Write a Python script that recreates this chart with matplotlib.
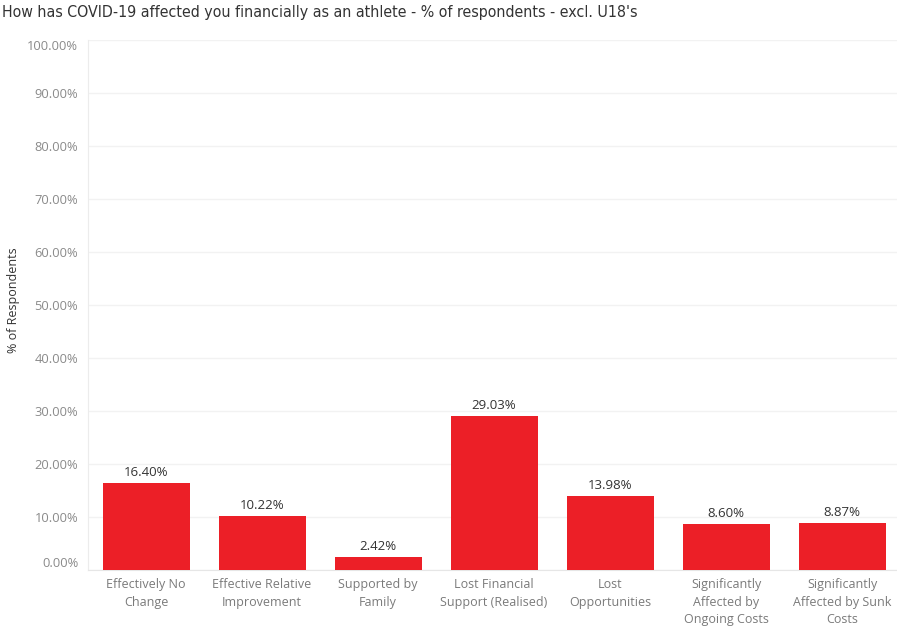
import matplotlib
matplotlib.use("Agg")
import matplotlib.pyplot as plt
from matplotlib.ticker import FixedLocator
from matplotlib import font_manager

categories = [
    "Effectively No\nChange",
    "Effective Relative\nImprovement",
    "Supported by\nFamily",
    "Lost Financial\nSupport (Realised)",
    "Lost\nOpportunities",
    "Significantly\nAffected by\nOngoing Costs",
    "Significantly\nAffected by Sunk\nCosts",
]
values = [16.40, 10.22, 2.42, 29.03, 13.98, 8.60, 8.87]
y_ticks = [0, 10, 20, 30, 40, 50, 60, 70, 80, 90, 100]
y_tick_labels = [f"{t:.2f}%" for t in y_ticks]

title_text = "How has COVID-19 affected you financially as an athlete - % of respondents - excl. U18's"

# pick a narrow face for the title if one is available
names = {f.name for f in font_manager.fontManager.ttflist}
narrow = "Liberation Sans Narrow" if "Liberation Sans Narrow" in names else "DejaVu Sans"

W, H = 897, 628
fig = plt.figure(figsize=(W / 100, H / 100), dpi=100)
ax = fig.add_axes([88 / W, 1 - 570 / H, (W - 88) / W, 530 / H])

bar_color = "#ec1f27"
x = list(range(len(values)))
ax.bar(x, values, width=0.75, color=bar_color, zorder=3)

for xi, v in zip(x, values):
    ax.annotate(f"{v:.2f}%", (xi, v), xytext=(0, 3), textcoords="offset points",
                ha="center", va="bottom", fontsize=9.5, color="#333333",
                family="Open Sans", zorder=4)

ax.set_xlim(-0.5, (W - 88) / 116 - 0.5)
ax.set_ylim(0, 100)

ax.yaxis.set_major_locator(FixedLocator(y_ticks))
ax.set_yticklabels(y_tick_labels)
ax.grid(axis="y", color="#f2f2f2", linewidth=1, zorder=0)
ax.tick_params(axis="y", length=0, pad=7, labelsize=9.3, labelcolor="#8a8a8a")
for lbl in ax.get_yticklabels():
    lbl.set_family("Open Sans")
ylabels = ax.get_yticklabels()
ylabels[0].set_va("bottom")
ylabels[-1].set_va("top")

ax.set_xticks(x)
ax.set_xticklabels(categories, fontsize=9, color="#7a7a7a", family="Open Sans",
                   linespacing=1.45)
ax.tick_params(axis="x", length=0, pad=6)

for side in ("top", "right"):
    ax.spines[side].set_visible(False)
ax.spines["left"].set_color("#ececec")
ax.spines["bottom"].set_color("#e6e6e6")

fig.text(13 / W, 1 - 300 / H, "% of Respondents", rotation=90, fontsize=9,
         color="#333333", family="Open Sans", ha="center", va="center")

fig.text(2 / W, 1 - 13 / H, title_text,
         fontsize=11.4, color="#333333", family=narrow, fontstretch="condensed",
         ha="left", va="center")

fig.savefig("out.png", dpi=100)
